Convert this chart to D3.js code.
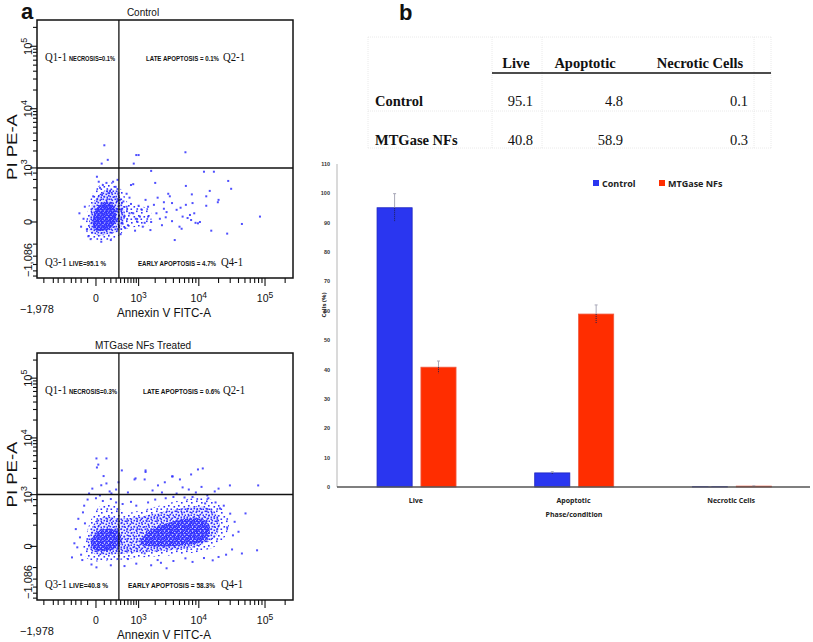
<!DOCTYPE html>
<html><head><meta charset="utf-8">
<script src="https://cdn.jsdelivr.net/npm/d3@7"></script>
<style>body{margin:0;background:#fff}svg{display:block}</style>
</head><body>
<svg id="c" width="813" height="642"></svg>
<script>
// ---------------- DATA ----------------
const flowTitles = ["Control", "MTGase NFs Treated"];
const quadIds = ["Q1-1", "Q2-1", "Q3-1", "Q4-1"];
const ctrlQuadText = ["NECROSIS=0.1%", "LATE APOPTOSIS = 0.1%", "LIVE=95.1 %", "EARLY APOPTOSIS = 4.7%"];
const mtgQuadText = ["NECROSIS=0.3%", "LATE APOPTOSIS = 0.6%", "LIVE=40.8 %", "EARLY APOPTOSIS = 58.3%"];
const fitcDomain = [-1978, 262144];
const piDomain = [-1086, 262144];
const gateFITC = 360;
const gatePI = 1000;
const majorTicks = [0, 1000, 10000, 100000];
const fitcMinorTicks = [-1500, -1000, -800, -600, -400, -300, -200, -100, 100, 200, 300, 400, 500, 600, 700, 800, 900,
  2000, 3000, 4000, 5000, 6000, 7000, 8000, 9000, 20000, 30000, 40000, 50000, 60000, 70000, 80000, 90000, 200000];
const piMinorTicks = [-1000, -800, -600, -400, -200, 200, 400, 600, 800,
  2000, 3000, 4000, 5000, 6000, 7000, 8000, 9000, 20000, 30000, 40000, 50000, 60000, 70000, 80000, 90000, 200000];

// Control: individual events [Annexin V FITC-A, PI PE-A]
const ctrlPoints = [[100,2500],[150,1400],[65,1200],[800,1200],[900,1700],[1000,1700],[6200,1900],
 [1700,880],[12000,850],[17000,850],[28000,560],[31000,380],[2000,510],[700,460],[3300,290],[3500,250],[6300,440],
 [7800,280],[13000,250],[14700,340],[20000,200],[19500,170],[13000,130],[8000,160],[7300,47],[10400,0],[4200,-150],
 [15500,-60],[27000,-85],[45000,-12],[84000,35],[5000,-30],[3100,70],[2800,100],[2400,20],[1500,35],[1300,-5],
 [1000,130],[780,60],[780,480],[560,290],[470,180],[1700,0],[1650,-55],[5600,35],[6700,25],[7600,12],[8500,60],
 [9700,-8],[3800,5],[3800,160],[2800,170],[1500,120],[1150,90],[1060,35],[950,0],[6300,140],[8900,-5],[5400,-45],
 [-110,-50],[-90,-110],[10,680],[30,540],[130,510],[240,540],[330,590],[290,420],[45,400],[80,460],[70,270],[185,330],
 [420,90],[500,40],[560,120],[600,-20],[650,60],[700,150],[520,-40],[450,-10],[880,20],[1200,-30],[2100,60],[2600,-20],
 [3000,30],[4500,90],[5200,110],[1900,140],[1350,200],[2200,230],[650,230],[850,-60],[-160,20],[-200,-30],[-140,120],
 [-60,-140],[60,-170],[200,-150],[-230,60],[-30,250],[160,300],[350,300],[400,-90],[380,200]];
// Control: density outlines
const ctrlHalo = [[-123,-54],[-95,88],[-44,270],[44,460],[185,532],[384,396],[541,198],[601,47],[485,-54],[276,-127],[44,-149],[-69,-127]];
const ctrlOuter = [[-81,-25],[-69,54],[-33,161],[33,270],[123,357],[257,360],[361,270],[459,138],[513,47],[433,-25],[296,-71],[123,-98],[0,-98],[-69,-71]];
const ctrlStreak = [[339,198],[846,138],[1619,88],[1619,-12],[846,-32],[339,-39]];
const ctrlCore = [[-33,0],[-10,79],[44,138],[138,173],[238,138],[296,62],[276,-6],[169,-47],[44,-63],[-21,-47]];

// MTGase NFs treated: individual events
const mtgPoints = [[5,4475],[130,4475],[10,3120],[25,3500],[430,2770],[830,1915],[1350,2770],[1300,1915],[3900,2170],
 [5080,1915],[7600,2350],[9700,2880],[11500,3000],[870,2000],[1350,2600],[3800,2170],[130,1620],[210,1055],[44,965],
 [2230,1490],[5600,1370],[17500,1150],[29700,1490],[79000,1490],[13500,965],[-40,1300],[60,1500],[300,1250],[600,1100],
 [1800,1200],[2600,1100],[4500,1050],[7000,1250],[9000,1100],[20000,1300],[350,1700],[90,2200],[180,1150],[-80,1050],
 [2900,1700],[11000,1400],
 [51000,405],[76000,-26],[33000,84],[-384,-84],[5,-197],[3100,-210],[1700,-170],[16300,-113],[-169,428],[-138,226],
 [1300,-49],[6200,-93],[27000,171],[12500,668],[21000,524],[-270,-6],[-220,66],
 [-300,150],[-250,300],[-200,-60],[-150,600],[-100,800],[0,850],[80,750],[200,820],[300,700],[450,650],[700,720],[900,600],
 [1500,700],[2000,800],[3000,850],[4000,900],[6000,880],[8000,900],[14000,850],[18000,700],[24000,600],[30000,400],
 [35000,250],[32000,-20],[26000,-60],[20000,-80],[12000,-90],[8000,-130],[4000,-120],[2500,-140],[900,-150],[500,-180],
 [200,-170],[-50,-160],[-180,-110],[-330,20],[40000,120],[45000,-50],[600,-100],[2200,-110]];
const mtgOuter = [[-169,-13],[-123,84],[-69,241],[0,474],[95,668],[276,608],[513,428],[1061,474],[2406,608],[5080,770],
 [10400,882],[16400,770],[23300,524],[28700,272],[25800,84],[17600,0],[10400,-34],[3516,-66],[1061,-84],[276,-113],[-10,-124],[-123,-84]];
const mtgMid = [[-95,6],[-56,135],[4,272],[153,344],[339,307],[846,325],[2406,428],[5470,524],[10400,579],[17000,474],
 [21000,241],[18200,75],[10400,6],[3516,-26],[1061,-41],[276,-57],[-10,-57]];
const mtgCoreL = [[-56,6],[-21,84],[44,135],[220,147],[384,103],[384,6],[185,-26],[0,-26]];
const mtgCoreR = [[1619,135],[3516,241],[7300,307],[12500,272],[14770,135],[12500,41],[5080,6],[1980,0],[1061,19]];

// Panel b
const tableColumns = ["Live", "Apoptotic", "Necrotic Cells"];
const categories = ["Live", "Apoptotic", "Necrotic Cells"];
const seriesNames = ["Control", "MTGase NFs"];
const controlValues = [95.1, 4.8, 0.1];
const mtgValues = [40.8, 58.9, 0.3];
const controlErr = [4.8, 0.4, 0.05];
const mtgErr = [2.1, 3.1, 0.1];
const barTicks = [0, 10, 20, 30, 40, 50, 60, 70, 80, 90, 100, 110];
const xAxisTitle = "Phase/condition";
const yAxisTitle = "Cells (%)";

// ---------------- DRAW ----------------
const svg = d3.select("#c");
const blue = "#3030ff";
const sans = "'Liberation Sans', Arial, sans-serif";
const serif = "'Liberation Serif', 'Times New Roman', serif";
const defs = svg.append("defs");

function makePattern(id, size, dots, r) {
  const p = defs.append("pattern").attr("id", id).attr("width", size).attr("height", size)
    .attr("patternUnits", "userSpaceOnUse");
  dots.forEach(d => p.append("rect").attr("x", d[0]).attr("y", d[1]).attr("width", r).attr("height", r).attr("fill", blue));
}
makePattern("pSparse", 10, [[1,2],[6,0.5],[3.5,6],[8,5],[0.5,8.5],[6.5,8.2]], 1.6);
makePattern("pMid", 6, [[0.5,0.5],[3.5,1.5],[1.5,3.8],[4.5,4.5]], 1.6);
makePattern("pDense", 4, [[0,0],[2,1],[1,2.5],[3,3]], 1.8);

const panelA = [
  {title: flowTitles[0], left: 37, right: 293, top: 20, bottom: 278, texts: ctrlQuadText, points: ctrlPoints,
   layers: [[ctrlHalo, "pSparse", 0], [ctrlOuter, "pMid", 0.12], [ctrlStreak, "pSparse", 0], [ctrlCore, "pDense", 0.45]]},
  {title: flowTitles[1], left: 37, right: 293, top: 353, bottom: 600, texts: mtgQuadText, points: mtgPoints,
   layers: [[mtgOuter, "pSparse", 0], [mtgMid, "pMid", 0.08], [mtgCoreL, "pDense", 0.25], [mtgCoreR, "pDense", 0.25]]}
];

panelA.forEach((P, i) => {
  const x = d3.scaleSymlog().constant(300).domain(fitcDomain).range([P.left, P.right]);
  const y = d3.scaleSymlog().constant(160).domain(piDomain).range([P.bottom, P.top]);
  const g = svg.append("g");
  const clipId = "clip" + i;
  defs.append("clipPath").attr("id", clipId).append("rect")
    .attr("x", P.left).attr("y", P.top).attr("width", P.right - P.left).attr("height", P.bottom - P.top);
  const plot = g.append("g").attr("clip-path", `url(#${clipId})`);
  const line = d3.line().x(d => x(d[0])).y(d => y(d[1])).curve(d3.curveCatmullRomClosed.alpha(0.5));
  P.layers.forEach(([poly, pat, op]) => {
    if (op > 0) plot.append("path").attr("d", line(poly)).attr("fill", blue).attr("fill-opacity", op);
    plot.append("path").attr("d", line(poly)).attr("fill", `url(#${pat})`);
  });
  plot.selectAll("rect.ev").data(P.points).join("rect").attr("class", "ev")
    .attr("x", d => x(d[0]) - 1).attr("y", d => y(d[1]) - 1).attr("width", 2).attr("height", 2)
    .attr("fill", blue).attr("fill-opacity", 0.85);

  // gates
  g.append("line").attr("x1", x(gateFITC)).attr("x2", x(gateFITC)).attr("y1", P.top).attr("y2", P.bottom)
    .attr("stroke", "#111").attr("stroke-width", 1.3);
  g.append("line").attr("x1", P.left).attr("x2", P.right).attr("y1", y(gatePI)).attr("y2", y(gatePI))
    .attr("stroke", "#111").attr("stroke-width", 1.5);
  // frame
  g.append("rect").attr("x", P.left).attr("y", P.top).attr("width", P.right - P.left).attr("height", P.bottom - P.top)
    .attr("fill", "none").attr("stroke", "#111").attr("stroke-width", 1.5);

  // ticks
  const tk = g.append("g").attr("stroke", "#111").attr("stroke-width", 1.1);
  majorTicks.forEach(v => {
    tk.append("line").attr("x1", P.left - 7).attr("x2", P.left).attr("y1", y(v)).attr("y2", y(v));
    tk.append("line").attr("y1", P.bottom).attr("y2", P.bottom + 8).attr("x1", x(v)).attr("x2", x(v));
  });
  piMinorTicks.forEach(v => tk.append("line").attr("x1", P.left - 4).attr("x2", P.left).attr("y1", y(v)).attr("y2", y(v)));
  fitcMinorTicks.forEach(v => tk.append("line").attr("y1", P.bottom).attr("y2", P.bottom + 5).attr("x1", x(v)).attr("x2", x(v)));

  // y tick labels (rotated)
  majorTicks.forEach(v => {
    const t = g.append("text").attr("transform", `translate(32,${y(v)}) rotate(-90)`)
      .attr("text-anchor", "middle").attr("font-family", sans).attr("font-size", 11).attr("fill", "#111");
    if (v === 0) t.text("0");
    else {
      t.append("tspan").text("10");
      t.append("tspan").attr("dy", -5).attr("font-size", 9).text(String(Math.round(Math.log10(v))));
    }
  });
  g.append("text").attr("transform", `translate(32,${P.bottom - 18}) rotate(-90)`).attr("text-anchor", "middle")
    .attr("font-family", sans).attr("font-size", 11).attr("fill", "#111").text(d3.format(",")(piDomain[0]));
  g.append("text").attr("transform", `translate(17,${(P.top + P.bottom) / 2 - 2}) rotate(-90)`).attr("text-anchor", "middle")
    .attr("font-family", sans).attr("font-size", 14).attr("fill", "#111")
    .attr("textLength", 66).attr("lengthAdjust", "spacingAndGlyphs").text("PI PE-A");

  // x tick labels
  majorTicks.forEach(v => {
    const t = g.append("text").attr("x", x(v)).attr("y", P.bottom + 24).attr("text-anchor", "middle")
      .attr("font-family", sans).attr("font-size", 10.5).attr("fill", "#111");
    if (v === 0) t.text("0");
    else {
      t.append("tspan").text("10");
      t.append("tspan").attr("dy", -4).attr("font-size", 8.5).text(String(Math.round(Math.log10(v))));
    }
  });
  g.append("text").attr("x", P.left).attr("y", P.bottom + 35).attr("text-anchor", "middle")
    .attr("font-family", sans).attr("font-size", 11).attr("fill", "#111").text(d3.format(",")(fitcDomain[0]));
  g.append("text").attr("x", 164).attr("y", P.bottom + 39).attr("text-anchor", "middle")
    .attr("font-family", sans).attr("font-size", 12.5).attr("fill", "#111")
    .attr("textLength", 94).attr("lengthAdjust", "spacingAndGlyphs").text("Annexin V FITC-A");

  // title
  g.append("text").attr("x", 143).attr("y", P.top - 4).attr("text-anchor", "middle")
    .attr("font-family", sans).attr("font-size", 10).attr("fill", "#111").text(P.title);

  // quadrant labels
  const qTop = P.top + 41, qBot = P.bottom - 12;
  const big = (xx, yy, s, anchor) => g.append("text").attr("x", xx).attr("y", yy).attr("text-anchor", anchor)
    .attr("font-family", serif).attr("font-size", 13).attr("fill", "#111")
    .attr("textLength", 22).attr("lengthAdjust", "spacingAndGlyphs").text(s);
  const small = (xx, yy, s, anchor, len) => g.append("text").attr("x", xx).attr("y", yy).attr("text-anchor", anchor)
    .attr("font-family", sans).attr("font-weight", "bold").attr("font-size", 6.5).attr("fill", "#111")
    .attr("textLength", len).attr("lengthAdjust", "spacingAndGlyphs").text(s);
  big(45, qTop, quadIds[0], "start");
  small(69, qTop, P.texts[0], "start", i === 0 ? 46 : 48);
  big(245, qTop, quadIds[1], "end");
  small(i === 0 ? 219 : 220, qTop, P.texts[1], "end", i === 0 ? 73 : 77);
  big(45, qBot, quadIds[2], "start");
  small(69, qBot, P.texts[2], "start", i === 0 ? 37 : 39);
  big(243, qBot, quadIds[3], "end");
  small(i === 0 ? 216 : 215, qBot, P.texts[3], "end", i === 0 ? 78 : 87);
});

// panel letters
svg.append("text").attr("x", 21).attr("y", 19).attr("font-family", sans).attr("font-weight", "bold")
  .attr("font-size", 22).attr("fill", "#111").text("a");
svg.append("text").attr("x", 399).attr("y", 20).attr("font-family", sans).attr("font-weight", "bold")
  .attr("font-size", 22).attr("fill", "#111").text("b");

// ---------- table ----------
const tb = svg.append("g");
const gridC = "#e4e4e4";
[368, 492, 542, 754, 771].forEach(xx => tb.append("line").attr("x1", xx).attr("x2", xx).attr("y1", 37).attr("y2", 148)
  .attr("stroke", gridC).attr("stroke-width", 0.8).attr("stroke-dasharray", "1,1"));
[37, 111, 148].forEach(yy => tb.append("line").attr("x1", 368).attr("x2", 771).attr("y1", yy).attr("y2", yy)
  .attr("stroke", gridC).attr("stroke-width", 0.8).attr("stroke-dasharray", "1,1"));
tb.append("line").attr("x1", 492).attr("x2", 771).attr("y1", 73).attr("y2", 73).attr("stroke", "#111").attr("stroke-width", 1.6);
const headCenters = [516, 585, 700];
const valueRight = [533, 623, 748];
tableColumns.forEach((c, j) => tb.append("text").attr("x", headCenters[j]).attr("y", 68).attr("text-anchor", "middle")
  .attr("font-family", serif).attr("font-weight", "bold").attr("font-size", 14.5).attr("fill", "#111").text(c));
[[seriesNames[0], controlValues, 106], [seriesNames[1], mtgValues, 145]].forEach(([name, vals, yy]) => {
  tb.append("text").attr("x", 375).attr("y", yy).attr("font-family", serif).attr("font-weight", "bold")
    .attr("font-size", 14.5).attr("fill", "#111").text(name);
  vals.forEach((v, j) => tb.append("text").attr("x", valueRight[j]).attr("y", yy).attr("text-anchor", "end")
    .attr("font-family", serif).attr("font-size", 14.5).attr("fill", "#111").text(d3.format(".1f")(v)));
});

// ---------- bar chart ----------
const bc = svg.append("g");
const colors = ["#2a36f0", "#ff2d00"];
const strokes = ["#1c24c0", "#f05a40"];
const yB = d3.scaleLinear().domain([0, 110]).range([487, 164]);
const x0 = d3.scaleBand().domain(categories).range([337, 810]);
const bw = x0.bandwidth();
const x1 = d3.scaleBand().domain(seriesNames).range([bw * 0.254, bw * 0.755]).paddingInner(0.2);
const seriesData = [controlValues, mtgValues];
const seriesErr = [controlErr, mtgErr];

bc.append("line").attr("x1", 337).attr("x2", 337).attr("y1", yB(110)).attr("y2", yB(0)).attr("stroke", "#b5b5b5").attr("stroke-width", 1);
barTicks.forEach(v => bc.append("text").attr("x", 330).attr("y", yB(v) + 2).attr("text-anchor", "end")
  .attr("font-family", sans).attr("font-weight", "bold").attr("font-size", 5.5).attr("fill", "#333").text(v));

seriesNames.forEach((s, si) => {
  categories.forEach((c, ci) => {
    const v = seriesData[si][ci], e = seriesErr[si][ci];
    const bx = x0(c) + x1(s);
    bc.append("rect").attr("x", bx).attr("y", yB(v)).attr("width", x1.bandwidth()).attr("height", yB(0) - yB(v))
      .attr("fill", colors[si]).attr("stroke", strokes[si]).attr("stroke-width", 0.8);
    const cx = bx + x1.bandwidth() / 2;
    bc.append("line").attr("x1", cx).attr("x2", cx).attr("y1", yB(v + e)).attr("y2", yB(v))
      .attr("stroke", "#a8a8b8").attr("stroke-width", 1);
    bc.append("line").attr("x1", cx).attr("x2", cx).attr("y1", yB(v)).attr("y2", yB(Math.max(0, v - e)))
      .attr("stroke", "#202050").attr("stroke-width", 1).attr("stroke-dasharray", "1,1");
    bc.append("line").attr("x1", cx - 1.5).attr("x2", cx + 1.5).attr("y1", yB(v + e)).attr("y2", yB(v + e))
      .attr("stroke", "#a8a8b8").attr("stroke-width", 1);
  });
});
bc.append("line").attr("x1", 337).attr("x2", 810).attr("y1", yB(0)).attr("y2", yB(0)).attr("stroke", "#555").attr("stroke-width", 1.4);

categories.forEach(c => bc.append("text").attr("x", x0(c) + bw / 2).attr("y", 503).attr("text-anchor", "middle")
  .attr("font-family", "'Open Sans', sans-serif").attr("font-weight", "bold").attr("font-size", 7).attr("fill", "#222").text(c));
bc.append("text").attr("x", 574).attr("y", 517).attr("text-anchor", "middle")
  .attr("font-family", "'Open Sans', sans-serif").attr("font-weight", "bold").attr("font-size", 7).attr("fill", "#222").text(xAxisTitle);
bc.append("text").attr("transform", "translate(326,305) rotate(-90)").attr("text-anchor", "middle")
  .attr("font-family", "'Open Sans', sans-serif").attr("font-weight", "bold").attr("font-size", 6).attr("fill", "#222").text(yAxisTitle);

// legend
const legX = [593, 659];
seriesNames.forEach((s, si) => {
  bc.append("rect").attr("x", legX[si]).attr("y", 180).attr("width", 6).attr("height", 6).attr("fill", colors[si]);
  bc.append("text").attr("x", legX[si] + 9).attr("y", 187).attr("font-family", "'Open Sans', sans-serif")
    .attr("font-weight", "bold").attr("font-size", 9).attr("fill", "#222").text(s);
});
</script>
</body></html>
